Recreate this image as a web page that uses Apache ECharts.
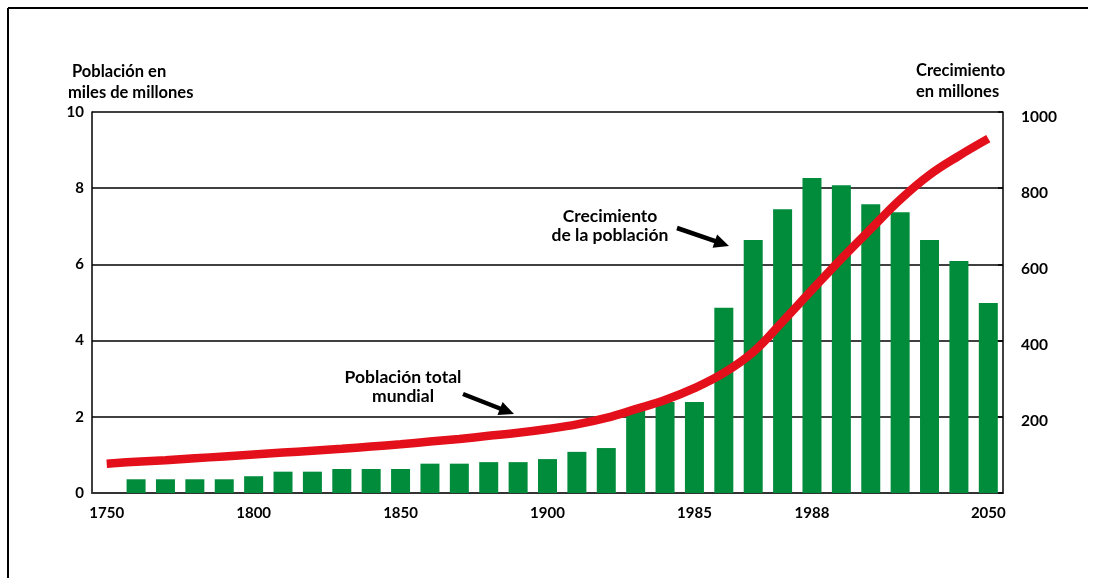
<!DOCTYPE html>
<html>
<head>
<meta charset="utf-8">
<script src="https://cdn.jsdelivr.net/npm/echarts@6/dist/echarts.min.js"></script>
<style>
html,body{margin:0;padding:0;background:#fff;}
#chart{width:1095px;height:578px;}
</style>
</head>
<body>
<div id="chart"></div>
<script>
// ---- data ----
var slotCount = 31;
var xTickLabels = {0:'1750', 5:'1800', 10:'1850', 15:'1900', 20:'1985', 24:'1988', 30:'2050'};
// población total mundial (miles de millones), left axis
var poblacionTotal = [0.77,0.82,0.86,0.91,0.96,1.01,1.06,1.11,1.16,1.22,1.28,1.35,1.42,1.50,1.58,1.68,1.80,1.97,2.20,2.44,2.75,3.15,3.70,4.50,5.33,6.15,6.93,7.70,8.35,8.85,9.30];
// crecimiento (millones), right axis; first slot empty
var crecimiento = [null,36,36,36,36,44,56,56,63,63,63,77,77,81,81,89,108,118,218,239,239,486,664,745,827,808,758,737,664,609,499];
var leftTicks = {min:0, max:10, interval:2};
var rightTicks = {min:0, max:1000, interval:200};

var categories = [];
for (var i = 0; i < slotCount; i++) categories.push('s' + i);

var FONT = 'Lato, "Open Sans", sans-serif';

function arrow(x1, y1, x2, y2) {
  var dx = x2 - x1, dy = y2 - y1, L = Math.sqrt(dx*dx + dy*dy);
  var ux = dx / L, uy = dy / L, px = -uy, py = ux;
  var hl = 15, hw = 7;
  var bx = x2 - ux * hl, by = y2 - uy * hl;
  return [
    {type:'line', shape:{x1:x1, y1:y1, x2:bx + ux*2, y2:by + uy*2}, style:{stroke:'#000', lineWidth:4.5}},
    {type:'polygon', shape:{points:[[x2,y2],[bx + px*hw, by + py*hw],[bx - px*hw, by - py*hw]]}, style:{fill:'#000'}}
  ];
}

var chart = echarts.init(document.getElementById('chart'), null, {renderer:'canvas'});
var graphics = [
  {type:'line', shape:{x1:8, y1:8, x2:1088, y2:8}, style:{stroke:'#000', lineWidth:2}},
  {type:'line', shape:{x1:8, y1:8, x2:8, y2:578}, style:{stroke:'#000', lineWidth:2}},
  {type:'text', left:68, top:61, style:{text:' Población en\nmiles de millones', font:'bold 16.5px ' + FONT, fill:'#000', lineHeight:21}},
  {type:'text', left:916, top:60, style:{text:'Crecimiento\nen millones', font:'bold 16.5px ' + FONT, fill:'#000', lineHeight:21}},
  {type:'text', x:403, y:368, style:{text:'Población total\nmundial', font:'bold 17.5px ' + FONT, fill:'#000', align:'center', lineHeight:19}},
  {type:'text', x:610, y:207, style:{text:'Crecimiento\nde la población', font:'bold 17.5px ' + FONT, fill:'#000', align:'center', lineHeight:19}}
].concat(arrow(463, 394, 514, 414)).concat(arrow(677, 228, 729, 246));

chart.setOption({
  animation: false,
  backgroundColor: '#fff',
  textStyle: {fontFamily: FONT},
  grid: {left: 92, right: 92, top: 112, bottom: 85},
  xAxis: {
    type: 'category',
    data: categories,
    boundaryGap: true,
    axisLine: {show: true, lineStyle: {color: '#333', width: 2}},
    axisTick: {show: false},
    axisLabel: {
      interval: 0, margin: 13,
      color: '#000', fontWeight: 'bold', fontSize: 15, fontFamily: FONT,
      formatter: function (v, idx) { return xTickLabels[idx] || ''; }
    },
    splitLine: {show: false}
  },
  yAxis: [
    {
      type: 'value', position: 'left',
      min: leftTicks.min, max: leftTicks.max, interval: leftTicks.interval,
      axisLine: {show: true, lineStyle: {color: '#000', width: 1.5}},
      axisTick: {show: false},
      axisLabel: {color: '#000', fontWeight: 'bold', fontSize: 15, fontFamily: FONT, margin: 8},
      splitLine: {show: true, lineStyle: {color: '#000', width: 1.5}}
    },
    {
      type: 'value', position: 'right',
      min: rightTicks.min, max: rightTicks.max, interval: rightTicks.interval,
      axisLine: {show: true, lineStyle: {color: '#000', width: 1.5}},
      axisTick: {show: true, inside: true, length: 5, lineStyle: {color: '#000', width: 1.5}},
      axisLabel: {color: '#000', fontWeight: 'bold', fontSize: 15.5, fontFamily: FONT, margin: 18,
        formatter: function (v) { return v === 0 ? '' : '{a|' + v + '}'; },
        rich: {a: {color: '#000', fontWeight: 'bold', fontSize: 15.5, fontFamily: FONT, padding: [9, 0, 0, 0]}}},
      splitLine: {show: false}
    }
  ],
  series: [
    {
      name: 'Crecimiento de la población',
      type: 'bar',
      yAxisIndex: 1,
      data: crecimiento,
      barWidth: 19,
      itemStyle: {color: '#008c3b'},
      z: 2
    },
    {
      name: 'Población total mundial',
      type: 'line',
      yAxisIndex: 0,
      data: poblacionTotal,
      smooth: 0.4,
      symbol: 'none',
      lineStyle: {color: '#e3101b', width: 8.5, cap: 'butt'},
      z: 3
    }
  ],
  graphic: graphics
});
</script>
</body>
</html>
